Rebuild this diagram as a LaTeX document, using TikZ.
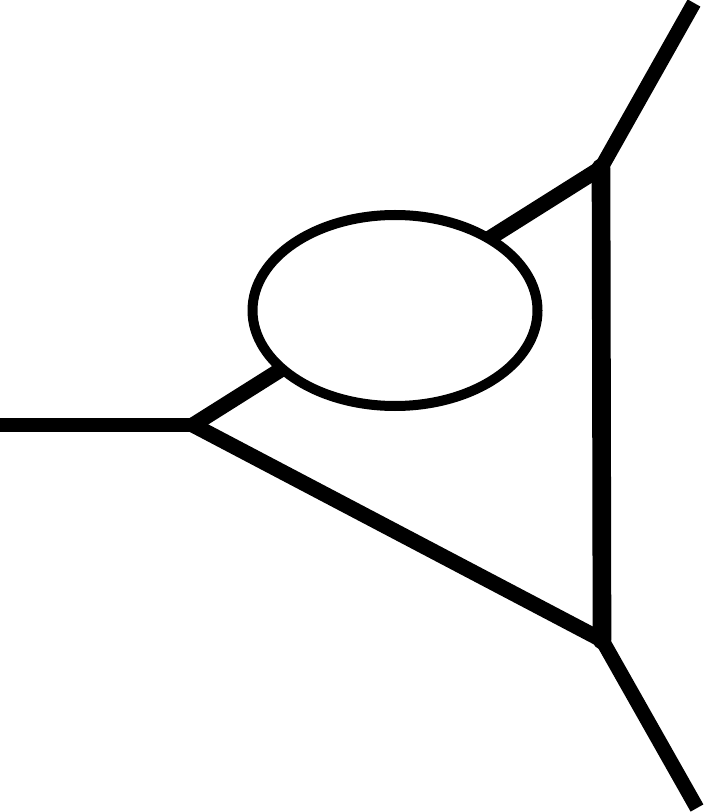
\documentclass[tikz,border=0pt]{standalone}
\usetikzlibrary{shapes.geometric}
\begin{document}
\begin{tikzpicture}[x=0.75pt,y=-0.75pt,
  prop/.style={line width=11.5pt,line cap=round},
  ext/.style={line width=11pt,line cap=butt},
  loopbox/.style={ellipse,draw,fill=white,line width=7.5pt,inner sep=0pt,
    minimum width=285*0.75pt,minimum height=191*0.75pt}]
\useasboundingbox (0,0) rectangle (708,812);
\coordinate (L) at (193,425);
\coordinate (T) at (601,168);
\coordinate (B) at (602,640);
\coordinate (ein) at (0,425);
\coordinate (etop) at (694,3);
\coordinate (ebot) at (697,808);
\draw[ext] (ein) -- (L);
\draw[ext] (T) -- (etop);
\draw[ext] (B) -- (ebot);
\draw[prop] (L) -- (T);
\draw[prop] (L) -- (B);
\draw[line width=14pt,line cap=round] (T) -- (B);
\node[loopbox] (loop) at (395,310.5) {};
\end{tikzpicture}
\end{document}
